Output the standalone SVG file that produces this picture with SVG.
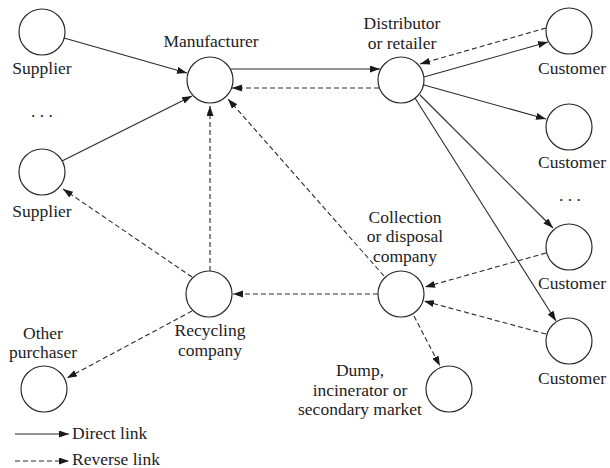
<svg xmlns="http://www.w3.org/2000/svg" width="610" height="468" viewBox="0 0 610 468" font-family="'Times New Roman', 'Liberation Serif', Tinos, serif" font-size="17.5">
<style>
.n circle{fill:#fff;stroke:#2a2a2a;stroke-width:1.2}
.d{stroke:#2a2a2a;stroke-width:1.1;fill:none;marker-end:url(#ah)}
.r{stroke:#2a2a2a;stroke-width:1.1;fill:none;stroke-dasharray:5,3;marker-end:url(#ah)}
.t{fill:#222;text-anchor:middle}
.s{fill:#222;text-anchor:start}
</style>
<defs>
<marker id="ah" markerUnits="userSpaceOnUse" markerWidth="11" markerHeight="8" refX="10" refY="3.5" orient="auto">
<path d="M0,0 L10,3.5 L0,7 z" fill="#1a1a1a"/>
</marker>
</defs>
<rect width="610" height="468" fill="#fff"/>
<g id="connectors">
<line class="d" x1="64" y1="38" x2="187" y2="73"/>
<line class="d" x1="62" y1="161" x2="192" y2="96"/>
<line class="d" x1="231" y1="69" x2="380" y2="69"/>
<line class="r" x1="379" y1="88" x2="232" y2="88"/>
<line class="d" x1="424" y1="77" x2="548" y2="42"/>
<line class="r" x1="546" y1="28" x2="420" y2="64"/>
<line class="d" x1="424" y1="85" x2="546" y2="119"/>
<line class="d" x1="420" y1="95" x2="553" y2="228"/>
<line class="d" x1="415" y1="98" x2="556" y2="321"/>
<line class="r" x1="546" y1="253" x2="425" y2="287"/>
<line class="r" x1="546" y1="334" x2="424" y2="301"/>
<line class="r" x1="414" y1="316" x2="440" y2="366"/>
<line class="r" x1="378" y1="294" x2="233" y2="294"/>
<line class="r" x1="384" y1="276" x2="228" y2="99"/>
<line class="r" x1="210" y1="271" x2="210" y2="106"/>
<line class="r" x1="192" y1="277" x2="63" y2="189"/>
<line class="r" x1="192" y1="311" x2="67" y2="378"/>
</g>
<g id="supplier1" class="n"><circle cx="42" cy="32" r="23"/><text class="t" x="42" y="74">Supplier</text></g>
<g id="dots-left"><text class="t" x="42" y="117">. . .</text></g>
<g id="supplier2" class="n"><circle cx="42" cy="172" r="23"/><text class="t" x="42" y="217">Supplier</text></g>
<g id="manufacturer" class="n"><circle cx="210" cy="80" r="23"/><text class="t" x="211" y="47">Manufacturer</text></g>
<g id="distributor" class="n"><circle cx="401" cy="80" r="23"/><text class="t" x="402" y="29">Distributor</text><text class="t" x="402" y="49">or retailer</text></g>
<g id="customer1" class="n"><circle cx="569" cy="31" r="23"/><text class="t" x="572" y="74">Customer</text></g>
<g id="customer2" class="n"><circle cx="569" cy="127" r="23"/><text class="t" x="572" y="168">Customer</text></g>
<g id="dots-right"><text class="t" x="570" y="201">. . .</text></g>
<g id="customer3" class="n"><circle cx="569" cy="247" r="23"/><text class="t" x="572" y="289">Customer</text></g>
<g id="customer4" class="n"><circle cx="569" cy="341" r="23"/><text class="t" x="572" y="384">Customer</text></g>
<g id="collection" class="n"><circle cx="401" cy="294" r="23"/><text class="t" x="405" y="223">Collection</text><text class="t" x="405" y="242">or disposal</text><text class="t" x="405" y="262">company</text></g>
<g id="recycling" class="n"><circle cx="209" cy="294" r="23"/><text class="t" x="210" y="336">Recycling</text><text class="t" x="210" y="356">company</text></g>
<g id="dump" class="n"><circle cx="449" cy="389" r="23"/><text class="t" x="360" y="376">Dump,</text><text class="t" x="360" y="396">incinerator or</text><text class="t" x="360" y="415">secondary market</text></g>
<g id="other" class="n"><circle cx="44" cy="389" r="23"/><text class="t" x="43" y="339">Other</text><text class="t" x="43" y="358">purchaser</text></g>
<g id="legend">
<line class="d" x1="15" y1="434" x2="69" y2="434"/>
<text class="s" x="72" y="439">Direct link</text>
<line class="r" x1="15" y1="461" x2="69" y2="461"/>
<text class="s" x="72" y="465">Reverse link</text>
</g>
</svg>
